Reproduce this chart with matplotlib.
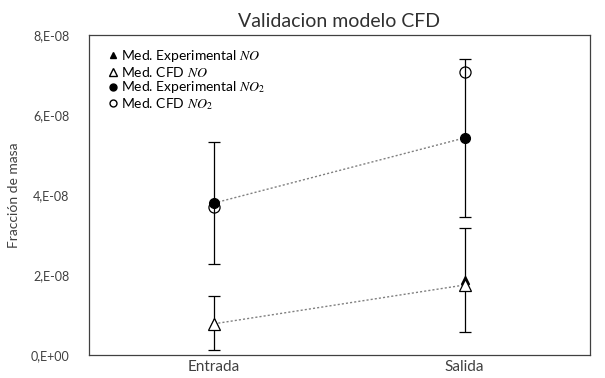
import matplotlib
matplotlib.use('Agg')
import matplotlib.pyplot as plt
from matplotlib.lines import Line2D
from matplotlib.ticker import FixedLocator, FixedFormatter

categories = ['Entrada', 'Salida']
exp_no = [0.80e-08, 1.88e-08]
exp_no_err = [0.67e-08, 1.30e-08]
cfd_no = [0.78e-08, 1.75e-08]
exp_no2 = [3.80e-08, 5.43e-08]
exp_no2_err = [1.53e-08, 1.98e-08]
cfd_no2 = [3.70e-08, 7.08e-08]
y_ticks = [0, 2e-08, 4e-08, 6e-08, 8e-08]
y_tick_labels = ['0,E+00', '2,E-08', '4,E-08', '6,E-08', '8,E-08']

plt.rcParams['font.family'] = ['Lato', 'DejaVu Sans']
plt.rcParams['mathtext.fontset'] = 'stix'

fig = plt.figure(figsize=(6.05, 3.78), dpi=100)
ax = fig.add_axes([0.147, 0.061, 0.828, 0.846])
x = [0, 1]

# dotted connecting lines
ax.plot(x, cfd_no, linestyle=(0, (1.5, 1.5)), color='#808080', linewidth=1.0, zorder=1)
ax.plot(x, exp_no2, linestyle=(0, (1.5, 1.5)), color='#808080', linewidth=1.0, zorder=1)

# experimental points with error bars
ax.errorbar(x, exp_no, yerr=exp_no_err, fmt='^', color='black', markersize=6,
            ecolor='black', elinewidth=0.9, capsize=4, capthick=0.9, zorder=3)
ax.errorbar(x, exp_no2, yerr=exp_no2_err, fmt='o', color='black', markersize=7,
            ecolor='black', elinewidth=0.9, capsize=4, capthick=0.9, zorder=3)

# CFD points
ax.plot(x, cfd_no, '^', markerfacecolor='white', markeredgecolor='black',
        markersize=8, markeredgewidth=0.9, linestyle='none', zorder=4)
ax.plot(x, cfd_no2, 'o', markerfacecolor='white', markeredgecolor='black',
        markersize=8, markeredgewidth=0.9, linestyle='none', zorder=2)

ax.set_xlim(-0.5, 1.5)
ax.set_ylim(0, 8e-08)
ax.set_xticks(x)
ax.set_xticklabels(categories, fontsize=11)
ax.yaxis.set_major_locator(FixedLocator(y_ticks))
ax.yaxis.set_major_formatter(FixedFormatter(y_tick_labels))
ax.tick_params(axis='y', length=0, labelsize=9, pad=14, colors='#404040')
ax.tick_params(axis='x', length=0, pad=4, colors='#404040')
for s in ax.spines.values():
    s.set_color('#404040')
    s.set_linewidth(0.9)

ax.set_ylabel('Fracción de masa', fontsize=10, color='#404040', labelpad=8)
ax.set_title('Validacion modelo CFD', fontsize=14, color='#303030', pad=6)

handles = [
    Line2D([], [], marker='^', color='black', linestyle='none', markersize=5),
    Line2D([], [], marker='^', markerfacecolor='white', markeredgecolor='black', linestyle='none', markersize=6),
    Line2D([], [], marker='o', color='black', linestyle='none', markersize=5),
    Line2D([], [], marker='o', markerfacecolor='white', markeredgecolor='black', linestyle='none', markersize=5),
]
labels = ['Med. Experimental $NO$', 'Med. CFD $NO$',
          'Med. Experimental $NO_2$', 'Med. CFD $NO_2$']
ax.legend(handles, labels, loc='upper left', frameon=False, fontsize=10,
          handlelength=0.6, handletextpad=0.3, labelspacing=0.05,
          borderaxespad=0.3, bbox_to_anchor=(0.02, 0.99))

fig.savefig('out.png', dpi=100)
